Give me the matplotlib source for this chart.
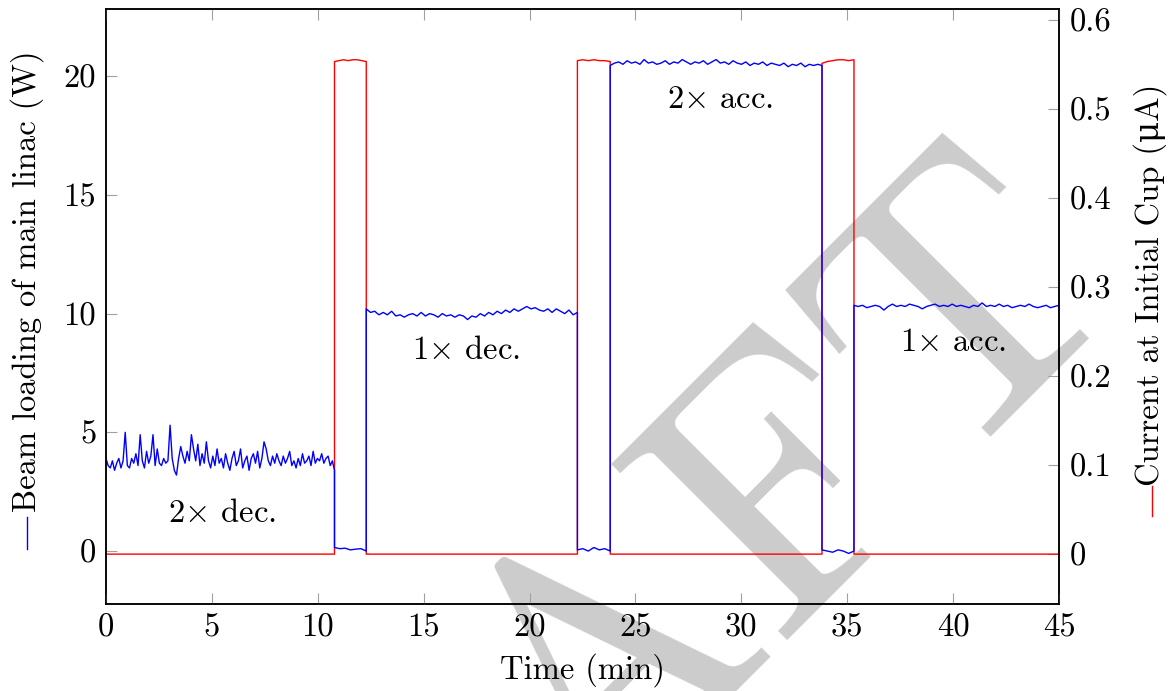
import numpy as np
import matplotlib
matplotlib.use("Agg")
import matplotlib.pyplot as plt
from matplotlib.lines import Line2D
from matplotlib.ticker import FixedLocator, FuncFormatter

plt.rcParams['font.family'] = ['cmr10', 'Liberation Serif', 'DejaVu Serif']
plt.rcParams['mathtext.fontset'] = 'cm'
plt.rcParams['axes.unicode_minus'] = False
plt.rcParams['axes.formatter.use_mathtext'] = True

# ---------------- data ----------------
# switch times of the beam (min)
switch_times = [0.0, 10.79, 12.29, 22.26, 23.81, 33.81, 35.32, 45.0]

# beam loading of main linac (W), one list per interval between switches
beam_seg1 = [3.9, 3.6, 3.5, 3.8, 3.4, 3.7, 3.9, 3.5, 3.8, 5.0,
             3.6, 3.5, 3.9, 3.7, 4.1, 3.6, 4.9, 3.8, 3.5, 4.2,
             3.7, 4.0, 4.9, 3.6, 4.3, 3.7, 3.6, 3.9, 3.7, 3.8,
             5.3, 3.9, 3.4, 3.2, 3.9, 4.4, 4.0, 3.7, 4.2, 3.8,
             4.9, 4.3, 3.8, 4.5, 3.6, 4.1, 3.7, 4.6, 3.8, 3.5,
             4.0, 3.6, 4.3, 3.7, 3.9, 3.5, 4.1, 3.7, 3.4, 3.9,
             4.2, 3.6, 3.8, 4.3, 3.5, 3.8, 4.0, 3.4, 3.9, 4.1,
             3.7, 4.2, 3.5, 3.9, 4.6, 4.3, 3.8, 3.6, 4.0, 3.7,
             4.1, 3.8, 3.6, 4.0, 3.7, 3.9, 4.2, 3.6, 3.8, 3.5,
             3.9, 3.6, 4.1, 3.7, 3.8, 4.0, 3.6, 4.2, 3.7, 3.9,
             3.8, 4.1, 3.7, 3.9, 4.0, 3.6, 3.8, 3.4]
beam_seg2 = [0.15, 0.1, 0.12, 0.05, 0.08, 0.1, 0.0]
beam_seg3 = [10.2, 10.05, 10.1, 9.95, 10.05, 9.95, 10.1, 9.9, 9.95, 9.85,
             9.95, 10.0, 9.9, 10.05, 9.9, 10.0, 9.95, 9.85, 10.0, 9.9,
             9.95, 9.85, 9.95, 9.9, 9.75, 9.9, 9.85, 10.0, 9.9, 10.05,
             9.95, 10.1, 10.0, 10.15, 10.05, 10.2, 10.1, 10.2, 10.3, 10.2,
             10.25, 10.15, 10.1, 10.2, 10.05, 10.2, 10.1, 10.0, 10.15, 9.95,
             10.05]
beam_seg4 = [0.05, 0.1, 0.0, 0.15, 0.05, 0.1, 0.0]
beam_seg5 = [20.45, 20.55, 20.6, 20.5, 20.65, 20.55, 20.6, 20.5, 20.7, 20.55,
             20.6, 20.5, 20.55, 20.65, 20.5, 20.6, 20.55, 20.7, 20.6, 20.5,
             20.6, 20.55, 20.65, 20.5, 20.6, 20.7, 20.55, 20.6, 20.5, 20.65,
             20.55, 20.5, 20.6, 20.45, 20.55, 20.5, 20.6, 20.45, 20.55, 20.5,
             20.45, 20.55, 20.4, 20.5, 20.45, 20.55, 20.4, 20.5, 20.45, 20.5,
             20.45]
beam_seg6 = [0.05, 0.0, -0.05, 0.05, 0.0, -0.1, 0.0]
beam_seg7 = [10.35, 10.3, 10.35, 10.25, 10.3, 10.35, 10.3, 10.15, 10.3, 10.4,
             10.3, 10.35, 10.3, 10.4, 10.35, 10.3, 10.2, 10.3, 10.35, 10.4,
             10.3, 10.35, 10.3, 10.4, 10.3, 10.35, 10.3, 10.25, 10.35, 10.3,
             10.45, 10.3, 10.35, 10.3, 10.4, 10.3, 10.35, 10.25, 10.3, 10.35,
             10.3, 10.4, 10.3, 10.25, 10.3, 10.35, 10.25, 10.3, 10.35]
beam_segments = [beam_seg1, beam_seg2, beam_seg3, beam_seg4,
                 beam_seg5, beam_seg6, beam_seg7]

# current at initial cup (uA), one list per interval between switches
cup_seg1 = [0.0, 0.0]
cup_seg2 = [0.553, 0.554, 0.555, 0.554, 0.555, 0.555, 0.554, 0.553]
cup_seg3 = [0.0, 0.0]
cup_seg4 = [0.554, 0.555, 0.554, 0.555, 0.554, 0.554, 0.553]
cup_seg5 = [0.0, 0.0]
cup_seg6 = [0.551, 0.553, 0.554, 0.555, 0.555, 0.554, 0.555]
cup_seg7 = [0.0, 0.0]
cup_segments = [cup_seg1, cup_seg2, cup_seg3, cup_seg4,
                cup_seg5, cup_seg6, cup_seg7]

x_ticks = [0, 5, 10, 15, 20, 25, 30, 35, 40, 45]
left_ticks = [0, 5, 10, 15, 20]
right_ticks = [0, 0.1, 0.2, 0.3, 0.4, 0.5, 0.6]

annotations = [(r"2$\times$ dec.", 5.5, 1.6), (r"1$\times$ dec.", 17.0, 8.45),
               (r"2$\times$ acc.", 29.0, 19.0), (r"1$\times$ acc.", 40.0, 8.8)]


def build(segments):
    ts, vs = [], []
    for i, seg in enumerate(segments):
        t0, t1 = switch_times[i], switch_times[i + 1]
        ts.extend(np.linspace(t0, t1, len(seg)))
        vs.extend(seg)
    return np.array(ts), np.array(vs)


t_beam, beam = build(beam_segments)
t_cup, cup = build(cup_segments)

# ---------------- figure ----------------
fig = plt.figure(figsize=(11.7, 6.91), dpi=100)
ax = fig.add_axes([0.0906, 0.1259, 0.8145, 0.8611])
ax2 = ax.twinx()
ax.set_zorder(2)
ax2.set_zorder(1)
ax.patch.set_visible(False)
ax2.patch.set_visible(False)

# watermark in the page background
fig.text(0.5679, -0.0876, "DRAFT", fontsize=262, color='#cccccc',
         rotation=45, rotation_mode='anchor', ha='center', va='baseline',
         zorder=-5, family=['cmr10', 'DejaVu Serif'])

FS = 23.5
ax2.plot(t_cup, cup, color='red', lw=1.0)
ax.plot(t_beam, beam, color='blue', lw=1.0)

ax.set_xlim(0, 45)
ax.set_ylim(-2.23, 22.83)
ax2.set_ylim(-0.056, 0.612)

ax.xaxis.set_major_locator(FixedLocator(x_ticks))
ax.yaxis.set_major_locator(FixedLocator(left_ticks))
ax2.yaxis.set_major_locator(FixedLocator(right_ticks))
fmt = FuncFormatter(lambda v, p: "%g" % v)
ax.xaxis.set_major_formatter(fmt)
ax.yaxis.set_major_formatter(fmt)
ax2.yaxis.set_major_formatter(fmt)

ax.tick_params(axis='x', which='both', direction='in', length=8, width=0.8,
               color='#a0a0a0', labelsize=FS, pad=7, top=True, bottom=True)
ax.tick_params(axis='y', direction='in', length=8, width=0.8,
               color='#a0a0a0', labelsize=FS, pad=7, left=True, right=False)
ax2.tick_params(axis='y', direction='in', length=8, width=0.8,
                color='#a0a0a0', labelsize=FS, pad=8, left=False, right=True)
for a in (ax, ax2):
    for s in a.spines.values():
        s.set_linewidth(1.1)
        s.set_color('black')

ax.set_xlabel("Time (min)", fontsize=FS, va='center')
ax.xaxis.set_label_coords(0.5, -0.111)
ax.set_ylabel("Beam loading of main linac (W)", fontsize=FS, va='center')
ax.yaxis.set_label_coords(-0.0829, 0.5425)
ax2.set_ylabel("Current at Initial Cup (\u03bcA)", fontsize=FS, va='center',
               rotation=90, family=['cmr10', 'DejaVu Serif'])
ax2.yaxis.set_label_coords(1.0955, 0.536)

# legend marks inside the axis labels
fig.add_artist(Line2D([27 / 1170, 27 / 1170], [0.2518, 0.2055],
                      transform=fig.transFigure, color='blue', lw=1.0))
fig.add_artist(Line2D([1152 / 1170, 1152 / 1170], [0.2967, 0.2533],
                      transform=fig.transFigure, color='red', lw=1.0))

for txt, tx, ty in annotations:
    ax.text(tx, ty, txt, fontsize=FS, ha='center', va='center')

fig.savefig("out.png", dpi=100)
